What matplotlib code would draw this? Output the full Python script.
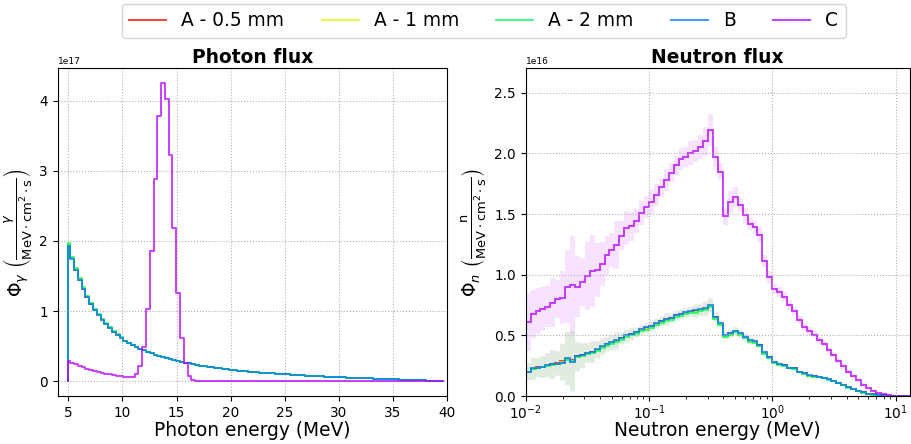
import numpy as np
import matplotlib
matplotlib.use('Agg')
import matplotlib.pyplot as plt

labels = ['A - 0.5 mm', 'A - 1 mm', 'A - 2 mm', 'B', 'C']

# Photon spectrum: 0.35 MeV bins starting at 5 MeV, flux in units of 1e17
photon_energy = np.round(5 + 0.35 * np.arange(100), 2)
b_photon = [
    1.93, 1.74, 1.58, 1.44, 1.31, 1.20, 1.10, 1.01, 0.94, 0.87,
    0.81, 0.755, 0.705, 0.66, 0.615, 0.58, 0.545, 0.515, 0.49, 0.46,
    0.44, 0.42, 0.40, 0.38, 0.362, 0.345, 0.33, 0.315, 0.30, 0.287,
    0.275, 0.263, 0.252, 0.242, 0.232, 0.223, 0.214, 0.205, 0.197, 0.19,
    0.183, 0.176, 0.169, 0.163, 0.157, 0.151, 0.146, 0.141, 0.136, 0.131,
    0.126, 0.122, 0.118, 0.114, 0.11, 0.106, 0.102, 0.099, 0.095, 0.092,
    0.089, 0.086, 0.083, 0.08, 0.077, 0.074, 0.071, 0.069, 0.066, 0.064,
    0.061, 0.059, 0.056, 0.054, 0.052, 0.049, 0.047, 0.045, 0.043, 0.041,
    0.039, 0.037, 0.035, 0.033, 0.031, 0.029, 0.027, 0.025, 0.023, 0.021,
    0.019, 0.017, 0.015, 0.013, 0.011, 0.009, 0.007, 0.005, 0.003, 0.001]
# A spectra sit on top of B except in the first bins
a05_photon = [1.94, 1.75, 1.59, 1.45, 1.32, 1.205, 1.105, 1.015, 0.944, 0.874,
              0.813, 0.757, 0.707, 0.662, 0.617] + b_photon[15:]
a1_photon = [1.95, 1.755, 1.595, 1.455, 1.325, 1.21, 1.11, 1.02, 0.948, 0.878,
             0.816, 0.76, 0.71, 0.665, 0.62] + b_photon[15:]
a2_photon = [1.97, 1.77, 1.61, 1.47, 1.34, 1.22, 1.12, 1.03, 0.955, 0.885,
             0.823, 0.767, 0.716, 0.67, 0.625] + b_photon[15:]
c_photon = [
    0.29, 0.265, 0.24, 0.22, 0.195, 0.175, 0.16, 0.145, 0.13, 0.12,
    0.105, 0.095, 0.085, 0.075, 0.068, 0.062, 0.058, 0.06, 0.10, 0.22,
    0.49, 1.03, 1.86, 2.88, 3.79, 4.25, 4.02, 3.22, 2.19, 1.26,
    0.61, 0.26, 0.08, 0.02, 0.005] + [0.0] * 65

# Neutron spectrum: log bins, 25 per decade from 10 keV, flux in units of 1e16
neutron_edges = np.logspace(-2, 1.12, 79)
b_neutron = [
    0.200, 0.228, 0.235, 0.240, 0.255, 0.262, 0.268, 0.275, 0.310, 0.280,
    0.330, 0.338, 0.357, 0.365, 0.385, 0.410, 0.430, 0.445, 0.460, 0.480,
    0.500, 0.515, 0.530, 0.550, 0.565, 0.580, 0.600, 0.620, 0.635, 0.645,
    0.670, 0.680, 0.690, 0.700, 0.705, 0.715, 0.725, 0.750, 0.654, 0.600,
    0.500, 0.520, 0.540, 0.517, 0.490, 0.460, 0.450, 0.420, 0.360, 0.320,
    0.283, 0.265, 0.255, 0.235, 0.228, 0.200, 0.187, 0.170, 0.163, 0.158,
    0.150, 0.140, 0.125, 0.110, 0.090, 0.072, 0.055, 0.040, 0.030, 0.020,
    0.013, 0.008, 0.005, 0.003, 0.002, 0.001, 0.0005, 0.0002]
a05_neutron = [
    0.202, 0.226, 0.236, 0.242, 0.254, 0.263, 0.270, 0.285, 0.308, 0.296,
    0.328, 0.335, 0.354, 0.362, 0.382, 0.406, 0.426, 0.441, 0.456, 0.476,
    0.496, 0.511, 0.526, 0.546, 0.560, 0.576, 0.596, 0.616, 0.631, 0.641,
    0.666, 0.676, 0.686, 0.696, 0.701, 0.711, 0.721, 0.746, 0.650, 0.596,
    0.497, 0.517, 0.537, 0.514, 0.487, 0.457, 0.447, 0.417, 0.358, 0.318,
    0.281, 0.263, 0.253, 0.234, 0.227, 0.199, 0.186, 0.169, 0.162, 0.157,
    0.149, 0.139, 0.124, 0.109, 0.089, 0.071, 0.055, 0.040, 0.030, 0.020,
    0.013, 0.008, 0.005, 0.003, 0.002, 0.001, 0.0005, 0.0002]
a1_neutron = [
    0.198, 0.225, 0.233, 0.238, 0.252, 0.259, 0.265, 0.280, 0.305, 0.290,
    0.324, 0.332, 0.351, 0.358, 0.378, 0.402, 0.422, 0.437, 0.452, 0.472,
    0.492, 0.507, 0.522, 0.541, 0.556, 0.571, 0.591, 0.611, 0.626, 0.636,
    0.661, 0.671, 0.681, 0.691, 0.696, 0.706, 0.716, 0.741, 0.645, 0.592,
    0.494, 0.513, 0.533, 0.511, 0.484, 0.454, 0.444, 0.414, 0.355, 0.315,
    0.279, 0.261, 0.251, 0.232, 0.225, 0.197, 0.184, 0.168, 0.161, 0.156,
    0.148, 0.138, 0.123, 0.108, 0.089, 0.071, 0.054, 0.039, 0.029, 0.019,
    0.012, 0.008, 0.005, 0.003, 0.002, 0.001, 0.0005, 0.0002]
a2_neutron = [
    0.195, 0.222, 0.230, 0.236, 0.248, 0.256, 0.262, 0.270, 0.300, 0.285,
    0.318, 0.326, 0.345, 0.352, 0.372, 0.395, 0.415, 0.430, 0.445, 0.465,
    0.485, 0.500, 0.515, 0.533, 0.548, 0.563, 0.583, 0.602, 0.617, 0.628,
    0.652, 0.662, 0.672, 0.682, 0.688, 0.698, 0.708, 0.732, 0.636, 0.585,
    0.488, 0.507, 0.527, 0.505, 0.478, 0.449, 0.438, 0.409, 0.350, 0.311,
    0.276, 0.258, 0.248, 0.229, 0.222, 0.195, 0.182, 0.166, 0.159, 0.154,
    0.146, 0.136, 0.122, 0.107, 0.088, 0.070, 0.054, 0.039, 0.029, 0.019,
    0.012, 0.008, 0.005, 0.003, 0.002, 0.001, 0.0005, 0.0002]
c_neutron = [
    0.61, 0.676, 0.70, 0.72, 0.736, 0.77, 0.80, 0.81, 0.90, 0.915,
    0.90, 0.94, 0.99, 1.03, 1.04, 1.09, 1.16, 1.20, 1.245, 1.32,
    1.385, 1.40, 1.44, 1.51, 1.56, 1.60, 1.66, 1.72, 1.78, 1.84,
    1.90, 1.95, 1.97, 2.00, 2.02, 2.05, 2.10, 2.19, 1.97, 1.85,
    1.48, 1.60, 1.64, 1.575, 1.49, 1.42, 1.39, 1.33, 1.11, 0.98,
    0.88, 0.86, 0.82, 0.75, 0.70, 0.63, 0.57, 0.535, 0.505, 0.46,
    0.43, 0.38, 0.34, 0.29, 0.245, 0.20, 0.165, 0.13, 0.095, 0.065,
    0.042, 0.025, 0.013, 0.006, 0.003, 0.001, 0.0005, 0.0002]
# statistical uncertainty per bin (same units)
c_err = [
    0.24, 0.20, 0.19, 0.18, 0.17, 0.20, 0.16, 0.22, 0.30, 0.40,
    0.25, 0.20, 0.28, 0.30, 0.22, 0.18, 0.16, 0.14, 0.20, 0.12,
    0.14, 0.12, 0.10, 0.10, 0.09, 0.10, 0.09, 0.08, 0.09, 0.08,
    0.08, 0.09, 0.08, 0.10, 0.09, 0.10, 0.12, 0.13, 0.08, 0.07,
    0.07, 0.09, 0.08, 0.06, 0.06, 0.05, 0.05, 0.06, 0.05, 0.05,
    0.04, 0.04, 0.04, 0.04, 0.03, 0.03, 0.03, 0.03, 0.03, 0.03,
    0.02, 0.02, 0.02, 0.02, 0.02, 0.02, 0.015, 0.015, 0.01, 0.01,
    0.008, 0.006, 0.004, 0.003, 0.002, 0.001, 0.0005, 0.0002]
ab_err = [
    0.07, 0.09, 0.08, 0.09, 0.10, 0.12, 0.10, 0.15, 0.22, 0.25,
    0.12, 0.10, 0.08, 0.09, 0.07, 0.07, 0.06, 0.06, 0.07, 0.05,
    0.05, 0.05, 0.04, 0.04, 0.04, 0.04, 0.04, 0.04, 0.05, 0.04,
    0.04, 0.04, 0.04, 0.04, 0.05, 0.05, 0.06, 0.06, 0.04, 0.03,
    0.03, 0.03, 0.03, 0.03, 0.03, 0.03, 0.02, 0.02, 0.02, 0.02,
    0.02, 0.015, 0.015, 0.015, 0.015, 0.01, 0.01, 0.01, 0.01, 0.01,
    0.01, 0.01, 0.01, 0.008, 0.008, 0.006, 0.005, 0.004, 0.003, 0.002,
    0.002, 0.001, 0.001, 0.0005, 0.0005, 0.0003, 0.0002, 0.0001]

photon_sets = [a05_photon, a1_photon, a2_photon, b_photon, c_photon]
neutron_sets = [a05_neutron, a1_neutron, a2_neutron, b_neutron, c_neutron]
neutron_errs = [ab_err, ab_err, ab_err, ab_err, c_err]
band_alpha = [0.05, 0.05, 0.05, 0.05, 0.11]

colors = [plt.cm.hsv(i / 5) for i in range(5)]
big = 13.4
small = 9.8

fig = plt.figure(figsize=(9.11, 4.44), dpi=100)
ax1 = fig.add_axes([0.0633, 0.108, 0.427, 0.738])
ax2 = fig.add_axes([0.577, 0.108, 0.4215, 0.738])

# Photon flux
for vals, col, lab in zip(photon_sets, colors, labels):
    y = np.r_[0, vals] * 1e17
    x = np.r_[photon_energy[0], photon_energy]
    ax1.step(x, y, where='mid', color=col, alpha=0.75, lw=1.4, label=lab)
ax1.set_xlim(4, 40)
ax1.set_title('Photon flux', fontsize=big, fontweight='bold', pad=4)
ax1.set_xlabel('Photon energy (MeV)', fontsize=big)
ax1.set_ylabel(r'$\Phi_\gamma\ \left(\frac{\gamma}{\mathrm{MeV\cdot cm^2\cdot s}}\right)$',
               fontsize=big)

# Neutron flux
for vals, err, col, a in zip(neutron_sets, neutron_errs, colors, band_alpha):
    v = np.array(vals) * 1e16
    e = np.array(err) * 1e16
    ax2.stairs(v + e, neutron_edges, baseline=v - e, fill=True,
               color=col, alpha=a, lw=0)
for vals, col in zip(neutron_sets, colors):
    ax2.stairs(np.array(vals) * 1e16, neutron_edges, baseline=None,
               color=col, alpha=0.75, lw=1.4)
ax2.set_xscale('log')
ax2.set_xlim(1e-2, 13)
ax2.set_ylim(0, 2.7e16)
ax2.set_title('Neutron flux', fontsize=big, fontweight='bold', pad=4)
ax2.set_xlabel('Neutron energy (MeV)', fontsize=big)
ax2.set_ylabel(r'$\Phi_n\ \left(\frac{\mathrm{n}}{\mathrm{MeV\cdot cm^2\cdot s}}\right)$',
               fontsize=big)

for ax in (ax1, ax2):
    ax.grid(True, which='major', linestyle=':', color='#b0b0b0', lw=0.8)
    ax.tick_params(labelsize=small)
    ax.yaxis.get_offset_text().set_fontsize(6.5)
    ax.xaxis.set_label_coords(0.5, -0.075)
ax2.tick_params(axis='x', which='major', pad=1.5)

fig.legend(*ax1.get_legend_handles_labels(), loc='upper center',
           bbox_to_anchor=(0.531, 1.0), ncol=5, fontsize=big,
           borderaxespad=0.2)

fig.savefig('out.png', dpi=100)
